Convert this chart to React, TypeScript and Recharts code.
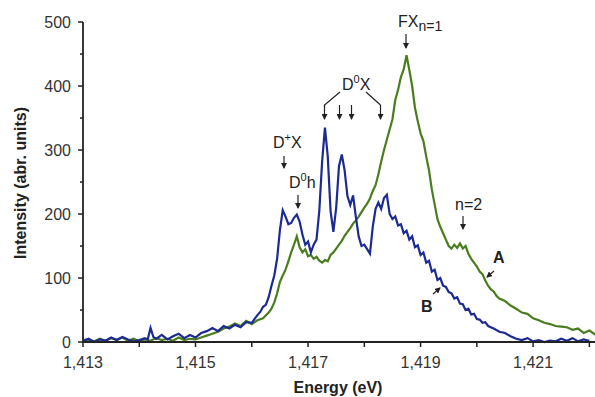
import { LineChart, Line, XAxis, YAxis } from 'recharts';

// spectrum B (blue)
const blueEnergy = [
  1.413, 1.4131, 1.4132, 1.4133, 1.4134, 1.4135, 1.4136, 1.4137, 1.4138, 1.4139,
  1.414, 1.4141, 1.41415, 1.4142, 1.41425, 1.4143, 1.4144, 1.4145, 1.4146, 1.4147,
  1.4148, 1.4149, 1.415, 1.4151, 1.4152, 1.4153, 1.4154, 1.4155, 1.4156, 1.4157,
  1.4158, 1.4159, 1.416, 1.41605, 1.4161, 1.41615, 1.4162, 1.41625, 1.4163, 1.41635,
  1.4164, 1.41645, 1.4165, 1.41655, 1.4166, 1.41665, 1.4167, 1.41675, 1.4168, 1.41685,
  1.4169, 1.41695, 1.417, 1.41705, 1.4171, 1.41715, 1.4172, 1.41725, 1.4173, 1.41735,
  1.4174, 1.41745, 1.4175, 1.41755, 1.4176, 1.41765, 1.4177, 1.41775, 1.4178, 1.41785,
  1.4179, 1.41795, 1.418, 1.41805, 1.4181, 1.41815, 1.4182, 1.41825, 1.4183, 1.41835,
  1.4184, 1.41845, 1.4185, 1.41855, 1.4186, 1.41865, 1.4187, 1.41875, 1.4188, 1.41885,
  1.4189, 1.41895, 1.419, 1.41905, 1.4191, 1.41915, 1.4192, 1.41925, 1.4193, 1.41935,
  1.4194, 1.41945, 1.4195, 1.41955, 1.4196, 1.41965, 1.4197, 1.41975, 1.4198, 1.41985,
  1.4199, 1.41995, 1.42, 1.42005, 1.4201, 1.42015, 1.4202, 1.4203, 1.4204, 1.4205,
  1.4206, 1.4207, 1.4208, 1.4209, 1.421, 1.4211, 1.4212, 1.4213, 1.4214, 1.4215,
  1.4216, 1.4217, 1.4218, 1.4219, 1.422,
];
const blueIntensity = [
  2, 5, 0, 4, 2, 7, 3, 8, 4, 1,
  3, 6, 4, 22, 8, 5, 11, 4, 9, 13,
  6, 11, 7, 14, 17, 22, 17, 25, 21, 27,
  23, 31, 30, 36, 42, 47, 55, 58, 70, 88,
  104, 130, 175, 206, 196, 184, 186, 194, 199, 188,
  168, 152, 157, 140, 152, 160, 205, 282, 335, 290,
  205, 172, 210, 275, 293, 268, 228, 214, 229, 195,
  165, 150, 152, 145, 138, 180, 208, 218, 208, 225,
  230, 200, 192, 196, 182, 184, 170, 174, 160, 165,
  148, 151, 136, 140, 124, 127, 110, 113, 97, 100,
  88, 86, 78, 76, 68, 70, 60, 59, 50, 52,
  43, 44, 36, 35, 30, 31, 25, 21, 16, 14,
  9, 5, 3, 6, 1, 3, 0, 2, 1, 5,
  2, 6, 1, 4, 2,
];

// spectrum A (green)
const greenEnergy = [
  1.413, 1.4131, 1.4132, 1.4133, 1.4134, 1.4135, 1.4136, 1.4137, 1.4138, 1.4139,
  1.414, 1.4141, 1.4142, 1.4143, 1.4144, 1.4145, 1.4146, 1.4147, 1.4148, 1.4149,
  1.415, 1.4151, 1.4152, 1.4153, 1.4154, 1.4155, 1.4156, 1.4157, 1.4158, 1.4159,
  1.416, 1.4161, 1.4162, 1.4163, 1.41635, 1.4164, 1.41645, 1.4165, 1.41655, 1.4166,
  1.41665, 1.4167, 1.41675, 1.4168, 1.41685, 1.4169, 1.41695, 1.417, 1.41705, 1.4171,
  1.41715, 1.4172, 1.41725, 1.4173, 1.41735, 1.4174, 1.41745, 1.4175, 1.41755, 1.4176,
  1.41765, 1.4177, 1.41775, 1.4178, 1.41785, 1.4179, 1.41795, 1.418, 1.41805, 1.4181,
  1.41815, 1.4182, 1.41825, 1.4183, 1.41835, 1.4184, 1.41845, 1.4185, 1.41855, 1.4186,
  1.41865, 1.4187, 1.41875, 1.4188, 1.41885, 1.4189, 1.41895, 1.419, 1.41905, 1.4191,
  1.41915, 1.4192, 1.41925, 1.4193, 1.41935, 1.4194, 1.41945, 1.4195, 1.41955, 1.4196,
  1.41965, 1.4197, 1.41975, 1.4198, 1.41985, 1.4199, 1.41995, 1.42, 1.42005, 1.4201,
  1.42015, 1.4202, 1.42025, 1.4203, 1.42035, 1.4204, 1.4205, 1.4206, 1.4207, 1.4208,
  1.4209, 1.421, 1.4211, 1.4212, 1.4213, 1.4214, 1.4215, 1.4216, 1.4217, 1.4218,
  1.4219, 1.422, 1.4221, 1.42215,
];
const greenIntensity = [
  0, 3, 1, 5, 2, 6, 3, 7, 2, 5,
  1, 4, 2, 6, 3, 5, 2, 7, 3, 5,
  4, 7, 10, 13, 16, 21, 24, 29, 25, 33,
  28, 34, 37, 46, 52, 62, 76, 94, 104, 113,
  126, 140, 152, 165, 148, 140, 145, 134, 136, 130,
  133, 127, 124, 128, 126, 136, 140, 146, 152, 158,
  166, 172, 178, 185, 190, 196, 203, 210, 216, 224,
  236, 245, 262, 282, 300, 316, 332, 348, 378, 394,
  414, 426, 448, 425, 400, 366, 345, 326, 314, 290,
  268, 238, 215, 192, 180, 170, 160, 150, 146, 152,
  147, 154, 146, 150, 138, 130, 124, 118, 110, 106,
  96, 88, 82, 79, 72, 68, 64, 57, 52, 46,
  44, 37, 34, 30, 28, 25, 24, 23, 19, 21,
  14, 18, 12, 15,
];

const xTicks = [1.413, 1.414, 1.415, 1.416, 1.417, 1.418, 1.419, 1.42, 1.421, 1.422];
const yTicks = [0, 50, 100, 150, 200, 250, 300, 350, 400, 450, 500];

const seriesB = blueEnergy.map((e, i) => ({ e, v: blueIntensity[i] }));
const seriesA = greenEnergy.map((e, i) => ({ e, v: greenIntensity[i] }));

const FONT = '"Liberation Sans", Arial, sans-serif';
const INK = '#222';

const XTick = ({ x, y, payload }: any) => {
  const k = Math.round(payload.value * 1000);
  if (k % 2 === 0) return <g />;
  return (
    <text x={x} y={y + 21} textAnchor="middle" fontSize={16} fill="#333" fontFamily={FONT}>
      {payload.value.toFixed(3).replace('.', ',')}
    </text>
  );
};

const YTick = ({ x, y, payload }: any) => {
  const major = payload.value % 100 === 0;
  return (
    <g>
      <line x1={major ? x + 7 : x + 9} x2={x + 12} y1={y} y2={y} stroke={INK} strokeWidth={1.5} />
      {major && (
        <text x={x} y={y} dy="0.36em" textAnchor="end" fontSize={16} fill="#333" fontFamily={FONT}>
          {payload.value}
        </text>
      )}
    </g>
  );
};

const Arrow = ({ x1, y1, x2, y2 }: { x1: number; y1: number; x2: number; y2: number }) => (
  <line x1={x1} y1={y1} x2={x2} y2={y2} stroke={INK} strokeWidth={1.2} markerEnd="url(#ah)" />
);

export default function App() {
  return (
    <div style={{ position: 'absolute', left: 0, top: 0, width: 595, height: 397, background: '#fff' }}>
      <LineChart width={595} height={397} margin={{ top: 22, right: 0, bottom: 15, left: 0 }}>
        <XAxis
          dataKey="e"
          type="number"
          domain={[1.413, 1.4221]}
          ticks={xTicks}
          allowDataOverflow
          height={40}
          tickSize={5}
          tickMargin={0}
          tick={<XTick />}
          axisLine={{ stroke: INK, strokeWidth: 1.8 }}
          tickLine={{ stroke: INK, strokeWidth: 1.5 }}
        />
        <YAxis
          dataKey="v"
          type="number"
          domain={[0, 500]}
          ticks={yTicks}
          width={83}
          tickSize={5}
          tickMargin={7}
          tickLine={false}
          tick={<YTick />}
          axisLine={{ stroke: INK, strokeWidth: 1.8 }}
        />
        <Line data={seriesA} dataKey="v" stroke="#4a7d1e" strokeWidth={2.2} dot={false} isAnimationActive={false} />
        <Line data={seriesB} dataKey="v" stroke="#1c2a94" strokeWidth={2.2} dot={false} isAnimationActive={false} />
      </LineChart>

      <svg
        width={595}
        height={397}
        style={{ position: 'absolute', left: 0, top: 0, pointerEvents: 'none' }}
        fontFamily={FONT}
        fill={INK}
      >
        <defs>
          <marker id="ah" markerUnits="userSpaceOnUse" markerWidth={6} markerHeight={6} refX={5} refY={3} orient="auto">
            <path d="M0,0 L6,3 L0,6 z" fill={INK} />
          </marker>
        </defs>

        {/* axis titles */}
        <text x={338} y={393} textAnchor="middle" fontSize={16} fontWeight="bold">Energy (eV)</text>
        <text transform="translate(26,183) rotate(-90)" textAnchor="middle" fontSize={16} fontWeight="bold">
          Intensity (abr. units)
        </text>

        {/* FX n=1 */}
        <text x={398} y={27} fontSize={16}>
          FX<tspan fontSize={14} dy={4}>n=1</tspan>
        </text>
        <Arrow x1={406} y1={34} x2={406} y2={48} />

        {/* D0X with bracket */}
        <text x={342} y={90} fontSize={16}>
          D<tspan fontSize={11} dy={-7}>0</tspan><tspan dy={7}>X</tspan>
        </text>
        <polyline points="340,92 324.5,105 324.5,107" fill="none" stroke={INK} strokeWidth={1.2} />
        <Arrow x1={324.5} y1={105} x2={324.5} y2={119} />
        <Arrow x1={339.5} y1={105} x2={339.5} y2={119} />
        <Arrow x1={351.5} y1={105} x2={351.5} y2={119} />
        <polyline points="366,92 380.5,105" fill="none" stroke={INK} strokeWidth={1.2} />
        <Arrow x1={380.5} y1={105} x2={380.5} y2={119} />

        {/* D+X */}
        <text x={273} y={148} fontSize={16}>
          D<tspan fontSize={11} dy={-7}>+</tspan><tspan dy={7}>X</tspan>
        </text>
        <Arrow x1={284} y1={156} x2={284} y2={168} />

        {/* D0h */}
        <text x={289} y={188} fontSize={16}>
          D<tspan fontSize={11} dy={-7}>0</tspan><tspan dy={7}>h</tspan>
        </text>
        <Arrow x1={298} y1={195} x2={298} y2={208} />

        {/* n=2 */}
        <text x={455} y={210} fontSize={16}>n=2</text>
        <Arrow x1={463} y1={216} x2={463} y2={229} />

        {/* curve labels */}
        <text x={493} y={263} fontSize={16} fontWeight="bold">A</text>
        <Arrow x1={494} y1={271} x2={487} y2={277} />
        <text x={421} y={312} fontSize={16} fontWeight="bold">B</text>
        <Arrow x1={433} y1={294} x2={440} y2={288} />
      </svg>
    </div>
  );
}
